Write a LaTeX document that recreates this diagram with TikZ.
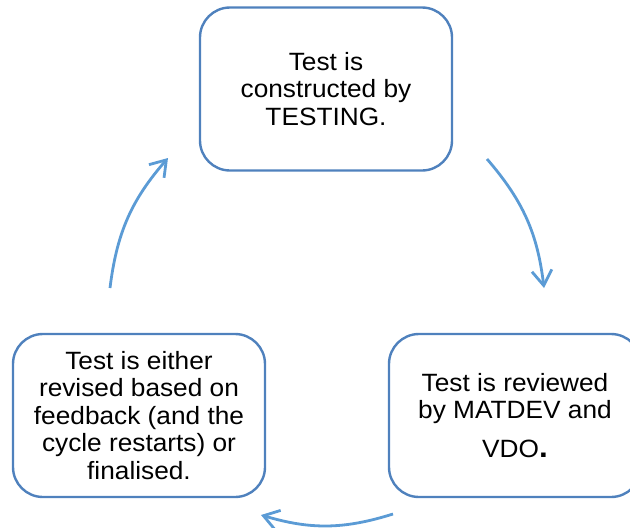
\documentclass[tikz,border=0pt]{standalone}
\usepackage{fontspec}
\setmainfont{Liberation Sans}[FakeStretch=1.05]
\usepackage{xcolor}
\usetikzlibrary{positioning,arrows.meta}

\definecolor{boxblue}{HTML}{4F81BD}
\definecolor{arrowblue}{HTML}{5B9BD5}

\begin{document}
\begin{tikzpicture}[
  x=1pt, y=-1pt,
  box/.style={rectangle, draw=boxblue, line width=2.4pt, rounded corners=30pt,
              minimum width=252pt, minimum height=163pt, align=center,
              font=\fontsize{25}{27.5}\selectfont},
  arrow/.style={-{Straight Barb[length=15pt,width=20pt]}, draw=arrowblue,
                line width=2.8pt}
]
\clip (0,0) rectangle (630,528);

% Stages of the cycle
\node[box] (construct) at (326,89) {Test is\\constructed by\\TESTING.};
\node[box] (review) at (515,415.5) {Test is reviewed\\by MATDEV and\\[11pt]VDO{\fontsize{30}{30}\selectfont\textbf{.}}};
\node[box] (revise) at (139,415.5) {Test is either\\revised based on\\feedback (and the\\cycle restarts) or\\finalised.};

% Arrow ends
\coordinate (c2r) at (487,159);
\coordinate (r2c) at (544,288);
\coordinate (r2v) at (393,514);
\coordinate (v2r) at (261,515);
\coordinate (v2c) at (110,288);
\coordinate (c2v) at (168,158);

% Arrows
\draw[arrow] (c2r) to[bend left=17] (r2c);
\draw[arrow] (r2v) to[bend left=17] (v2r);
\draw[arrow] (v2c) to[bend left=17] (c2v);

\end{tikzpicture}
\end{document}
